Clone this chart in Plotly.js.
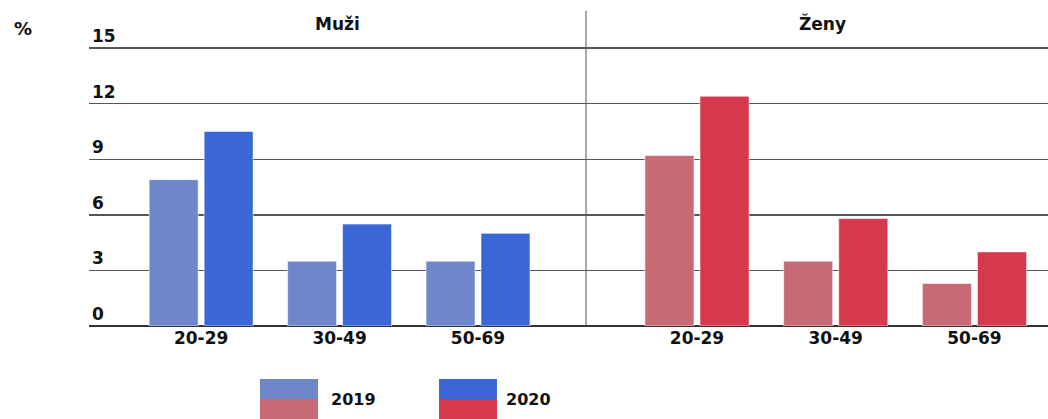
<!DOCTYPE html>
<html>
<head>
<meta charset="utf-8">
<script src="https://cdn.plot.ly/plotly-3.0.1.min.js"></script>
<style>html,body{margin:0;padding:0;background:#fff;}#chart{width:1048px;height:419px;}</style>
</head>
<body>
<div id="chart"></div>
<script>
var ageGroups = ["20-29", "30-49", "50-69"];
var panelTitles = ["Muži", "Ženy"];
var yearLabels = ["2019", "2020"];
var men2019 = [7.9, 3.5, 3.5];
var men2020 = [10.5, 5.5, 5.0];
var women2019 = [9.2, 3.5, 2.3];
var women2020 = [12.4, 5.8, 4.0];
var yTicks = [0, 3, 6, 9, 12, 15];

var cMen19 = "#6e87c8", cMen20 = "#3a66d6", cWom19 = "#c86a74", cWom20 = "#d6394c";
var FONT = "DejaVu Sans, sans-serif";
var edge = {color: "rgba(255,255,255,0.55)", width: 1};

var traces = [
  {type: "bar", x: ageGroups, y: men2019, name: yearLabels[0], xaxis: "x", yaxis: "y", marker: {color: cMen19, line: edge}, hoverinfo: "y"},
  {type: "bar", x: ageGroups, y: men2020, name: yearLabels[1], xaxis: "x", yaxis: "y", marker: {color: cMen20, line: edge}, hoverinfo: "y"},
  {type: "bar", x: ageGroups, y: women2019, name: yearLabels[0], xaxis: "x2", yaxis: "y2", marker: {color: cWom19, line: edge}, hoverinfo: "y"},
  {type: "bar", x: ageGroups, y: women2020, name: yearLabels[1], xaxis: "x2", yaxis: "y2", marker: {color: cWom20, line: edge}, hoverinfo: "y"}
];

var split = (586 - 89) / (1048 - 89);
var tickFont = {family: FONT, size: 17, color: "#111", weight: 700};

var yBase = {
  range: [0, 15.06], tickvals: yTicks, ticktext: yTicks.map(String),
  showgrid: true, gridcolor: "#555", gridwidth: 1.5,
  zeroline: true, zerolinecolor: "#333", zerolinewidth: 2,
  showline: false, ticks: "", fixedrange: true
};

var layout = {
  width: 1048, height: 419,
  margin: {l: 89, r: 0, t: 47, b: 93},
  paper_bgcolor: "#fff", plot_bgcolor: "#fff",
  showlegend: false,
  barmode: "group", bargap: 0.206, bargroupgap: 0.109,
  font: {family: FONT, color: "#111"},
  xaxis: {domain: [0, split], type: "category", range: [-0.81, 2.78], tickfont: tickFont, ticks: "", showline: false, showgrid: false, fixedrange: true},
  xaxis2: {domain: [split, 1], type: "category", range: [-0.80, 2.53], tickfont: tickFont, ticks: "", showline: false, showgrid: false, fixedrange: true, anchor: "y2"},
  yaxis: Object.assign({}, yBase, {anchor: "x", ticklabelposition: "inside top", ticklabeloverflow: "allow", tickfont: tickFont}),
  yaxis2: Object.assign({}, yBase, {anchor: "x2", showticklabels: false}),
  shapes: [
    {type: "line", xref: "paper", yref: "paper", x0: split, x1: split, y0: 0, y1: 1.13, line: {color: "#555", width: 1}},
    {type: "rect", xref: "paper", yref: "paper", x0: (260-89)/959, x1: (318-89)/959, y0: -0.333, y1: -0.19, line: {width: 0}, fillcolor: cMen19},
    {type: "rect", xref: "paper", yref: "paper", x0: (260-89)/959, x1: (318-89)/959, y0: -0.335, y1: -0.262, line: {width: 0}, fillcolor: cWom19},
    {type: "rect", xref: "paper", yref: "paper", x0: (439-89)/959, x1: (497-89)/959, y0: -0.333, y1: -0.19, line: {width: 0}, fillcolor: cMen20},
    {type: "rect", xref: "paper", yref: "paper", x0: (439-89)/959, x1: (497-89)/959, y0: -0.335, y1: -0.262, line: {width: 0}, fillcolor: cWom20}
  ],
  annotations: [
    {text: panelTitles[0], xref: "paper", yref: "paper", x: split / 2, y: 1.083, xanchor: "center", yanchor: "middle", showarrow: false, font: {family: FONT, size: 17, color: "#111", weight: 700}},
    {text: panelTitles[1], xref: "paper", yref: "paper", x: (822-89)/959, y: 1.083, xanchor: "center", yanchor: "middle", showarrow: false, font: {family: FONT, size: 17, color: "#111", weight: 700}},
    {text: "%", xref: "paper", yref: "paper", x: (12-89)/959, y: 1.065, xanchor: "left", yanchor: "middle", showarrow: false, font: {family: FONT, size: 18, color: "#111", weight: 700}},
    {text: yearLabels[0], xref: "paper", yref: "paper", x: (329-89)/959, y: -0.262, xanchor: "left", yanchor: "middle", showarrow: false, font: {family: FONT, size: 16, color: "#111", weight: 700}},
    {text: yearLabels[1], xref: "paper", yref: "paper", x: (504-89)/959, y: -0.262, xanchor: "left", yanchor: "middle", showarrow: false, font: {family: FONT, size: 16, color: "#111", weight: 700}}
  ]
};

Plotly.newPlot("chart", traces, layout, {displayModeBar: false, staticPlot: true});
</script>
</body>
</html>
